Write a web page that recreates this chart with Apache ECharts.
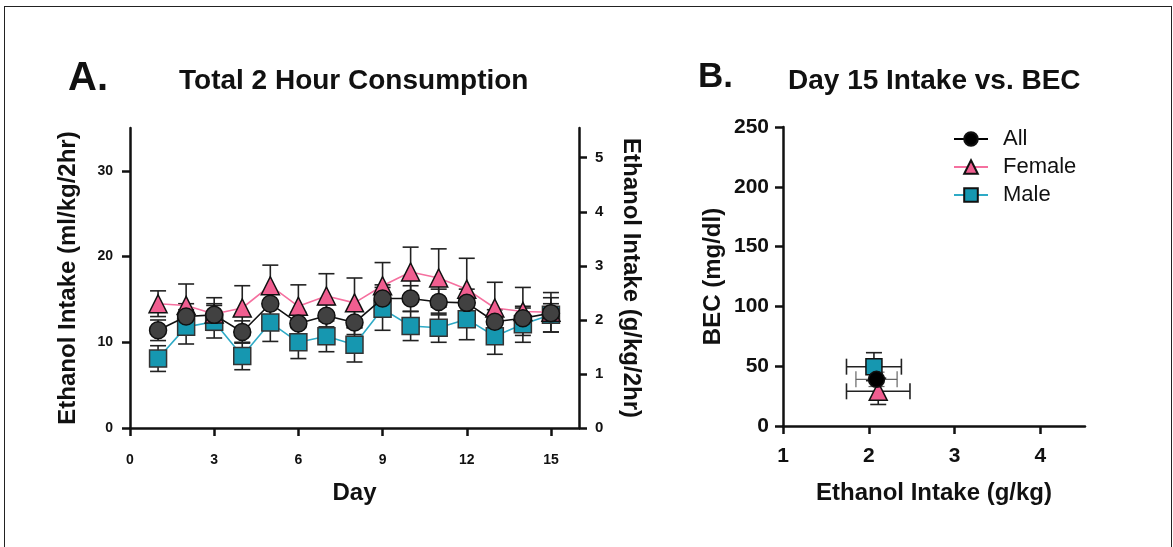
<!DOCTYPE html>
<html>
<head>
<meta charset="utf-8">
<title>Ethanol intake</title>
<script src="https://cdn.jsdelivr.net/npm/echarts@6/dist/echarts.min.js"></script>
<style>
  html, body { margin: 0; padding: 0; background: #fff; }
  #chart { width: 1173px; height: 547px; }
  #frame {
    position: absolute; left: 4px; top: 6px; width: 1166px; height: 560px;
    border: 1.5px solid #222; pointer-events: none;
  }
</style>
</head>
<body>
<div id="chart"></div>
<div id="frame"></div>
<script>
// Panel A: daily 2 hour intake (ml/kg/2hr), mean and SEM
const days = [1, 2, 3, 4, 5, 6, 7, 8, 9, 10, 11, 12, 13, 14, 15]
const allMean = [11.4, 13.0, 13.2, 11.2, 14.5, 12.2, 13.1, 12.3, 15.1, 15.1, 14.7, 14.6, 12.4, 12.8, 13.4]
const allErr = [1.2, 1.5, 1.3, 1.3, 1.4, 1.3, 1.3, 1.4, 1.6, 1.5, 1.5, 1.6, 1.4, 1.2, 1.1]
const femaleMean = [14.5, 14.3, 13.3, 14.0, 16.6, 14.2, 15.4, 14.6, 16.6, 18.2, 17.5, 16.2, 14.0, 13.6, 13.5]
const femaleErr = [1.5, 2.5, 1.9, 2.6, 2.4, 2.5, 2.6, 2.9, 2.7, 2.9, 3.4, 3.6, 3.0, 2.8, 2.3]
const maleMean = [8.1, 11.8, 12.4, 8.4, 12.3, 10.0, 10.7, 9.7, 13.9, 11.9, 11.7, 12.7, 10.7, 12.1, 13.2]
const maleErr = [1.5, 2.0, 1.9, 1.6, 2.2, 1.9, 1.8, 2.0, 2.5, 1.7, 1.7, 2.4, 2.1, 2.1, 2.0]
const dayTicks = [0, 3, 6, 9, 12, 15]
const mlTicks = [0, 10, 20, 30]
const gTicks = [0, 1, 2, 3, 4, 5]

// Panel B: day 15 intake vs BEC (order: All, Female, Male)
const groups = ['All', 'Female', 'Male']
const bIntake = [2.09, 2.11, 2.06]
const bIntakeErr = [0.24, 0.37, 0.32]
const bBec = [39, 29, 49.6]
const bBecErr = [6, 11, 11.7]
const intakeTicks = [1, 2, 3, 4]

const FONT = 'Liberation Sans, Arial, sans-serif'
const PINK = '#f05e90'
const PINK_LINE = '#f5709f'
const TEAL = '#1697b0'
const TEAL_LINE = '#2eaac6'
const GREY = '#414141'

const chart = echarts.init(document.getElementById('chart'))

function axisBase() {
  return {
    axisLine: { show: true, onZero: false, lineStyle: { color: '#111', width: 2.5 } },
    axisTick: { show: true, length: 8, lineStyle: { color: '#111', width: 2.5 } },
    splitLine: { show: false },
    nameTextStyle: { fontFamily: FONT, fontWeight: 'bold', fontSize: 24, color: '#111' }
  }
}

function labelStyle(size) {
  return { fontFamily: FONT, fontWeight: 'bold', fontSize: size, color: '#111' }
}

function errorBars(name, means, errs) {
  return {
    type: 'custom',
    name,
    xAxisIndex: 0,
    yAxisIndex: 0,
    z: 1,
    silent: true,
    data: days.map((d, i) => [d, means[i] - errs[i], means[i] + errs[i]]),
    encode: { x: 0, y: [1, 2] },
    renderItem(params, api) {
      const x = api.value(0)
      const lo = api.coord([x, api.value(1)])
      const hi = api.coord([x, api.value(2)])
      const hw = 8
      const style = { stroke: '#222', lineWidth: 1.6 }
      return {
        type: 'group',
        children: [
          { type: 'line', shape: { x1: lo[0], y1: lo[1], x2: hi[0], y2: hi[1] }, style },
          { type: 'line', shape: { x1: hi[0] - hw, y1: hi[1], x2: hi[0] + hw, y2: hi[1] }, style },
          { type: 'line', shape: { x1: lo[0] - hw, y1: lo[1], x2: lo[0] + hw, y2: lo[1] }, style }
        ]
      }
    }
  }
}

function dayLine(name, means, symbol, fill, border, lineColor, z) {
  return {
    type: 'line',
    name,
    xAxisIndex: 0,
    yAxisIndex: 0,
    z,
    data: days.map((d, i) => [d, means[i]]),
    symbol,
    symbolSize: symbol === 'triangle' ? 18 : 17,
    itemStyle: { color: fill, borderColor: border, borderWidth: 1.5 },
    lineStyle: { color: lineColor, width: 1.6 },
    emphasis: { disabled: true }
  }
}

const scatterSymbols = ['circle', 'triangle', 'rect']
const scatterFills = ['#000', PINK, TEAL]
const scatterLines = ['#000', PINK_LINE, TEAL_LINE]
const scatterZ = [5, 4, 3]

const bPoints = groups.map((g, i) => ({
  type: 'line',
  name: g,
  xAxisIndex: 1,
  yAxisIndex: 2,
  z: scatterZ[i],
  data: [[bIntake[i], bBec[i]]],
  symbol: scatterSymbols[i],
  symbolSize: i === 1 ? 18 : 16,
  itemStyle: { color: scatterFills[i], borderColor: '#111', borderWidth: 1.5 },
  lineStyle: { color: scatterLines[i], width: 1.2 },
  emphasis: { disabled: true }
}))

const bErrors = {
  type: 'custom',
  name: 'B errors',
  xAxisIndex: 1,
  yAxisIndex: 2,
  z: 1,
  silent: true,
  data: groups.map((g, i) => [bIntake[i], bBec[i], bIntakeErr[i], bBecErr[i], i]),
  encode: { x: 0, y: 1 },
  renderItem(params, api) {
    const x = api.value(0)
    const y = api.value(1)
    const ex = api.value(2)
    const ey = api.value(3)
    const idx = api.value(4)
    const left = api.coord([x - ex, y])
    const right = api.coord([x + ex, y])
    const top = api.coord([x, y + ey])
    const bottom = api.coord([x, y - ey])
    const hw = 8
    const style = { stroke: idx === 0 ? '#666' : '#222', lineWidth: idx === 0 ? 1.2 : 1.6 }
    return {
      type: 'group',
      children: [
        { type: 'line', shape: { x1: left[0], y1: left[1], x2: right[0], y2: right[1] }, style },
        { type: 'line', shape: { x1: left[0], y1: left[1] - hw, x2: left[0], y2: left[1] + hw }, style },
        { type: 'line', shape: { x1: right[0], y1: right[1] - hw, x2: right[0], y2: right[1] + hw }, style },
        { type: 'line', shape: { x1: top[0], y1: top[1], x2: bottom[0], y2: bottom[1] }, style },
        { type: 'line', shape: { x1: top[0] - hw, y1: top[1], x2: top[0] + hw, y2: top[1] }, style },
        { type: 'line', shape: { x1: bottom[0] - hw, y1: bottom[1], x2: bottom[0] + hw, y2: bottom[1] }, style }
      ]
    }
  }
}

chart.setOption({
  animation: false,
  textStyle: { fontFamily: FONT },
  title: [
    { text: 'A.', left: 63, top: 54, textStyle: { fontFamily: FONT, fontWeight: 'bold', fontSize: 40, color: '#111' } },
    { text: 'Total 2 Hour Consumption', left: 174, top: 62, textStyle: { fontFamily: FONT, fontWeight: 'bold', fontSize: 28, color: '#111' } },
    { text: 'B.', left: 693, top: 55, textStyle: { fontFamily: FONT, fontWeight: 'bold', fontSize: 35, color: '#111' } },
    { text: 'Day 15 Intake vs. BEC', left: 783, top: 62, textStyle: { fontFamily: FONT, fontWeight: 'bold', fontSize: 28, color: '#111' } }
  ],
  legend: {
    data: groups,
    orient: 'vertical',
    left: 948,
    top: 123,
    itemWidth: 34,
    itemHeight: 17,
    itemGap: 6,
    selectedMode: false,
    textStyle: { fontFamily: FONT, fontSize: 22, color: '#111', padding: [0, 0, 0, 10] }
  },
  grid: [
    { left: 130, right: 594, top: 128, bottom: 119 },
    { left: 783, right: 88, top: 127, bottom: 121 }
  ],
  xAxis: [
    {
      ...axisBase(),
      gridIndex: 0,
      type: 'value',
      min: 0,
      max: 16,
      name: 'Day',
      nameLocation: 'middle',
      nameGap: 53,
      axisTick: { show: true, length: 8, customValues: dayTicks, lineStyle: { color: '#111', width: 2.5 } },
      axisLabel: { ...labelStyle(14), margin: 25, customValues: dayTicks }
    },
    {
      ...axisBase(),
      gridIndex: 1,
      type: 'value',
      min: 1,
      max: 4.52,
      name: 'Ethanol Intake (g/kg)',
      nameLocation: 'middle',
      nameGap: 55,
      axisTick: { show: true, length: 8, customValues: intakeTicks, lineStyle: { color: '#111', width: 2.5 } },
      axisLabel: { ...labelStyle(21), margin: 20, customValues: intakeTicks }
    }
  ],
  yAxis: [
    {
      ...axisBase(),
      gridIndex: 0,
      type: 'value',
      min: 0,
      max: 35,
      name: 'Ethanol Intake (ml/kg/2hr)',
      nameLocation: 'middle',
      nameGap: 50,
      axisTick: { show: true, length: 8, customValues: mlTicks, lineStyle: { color: '#111', width: 2.5 } },
      axisLabel: { ...labelStyle(14), margin: 17, customValues: mlTicks }
    },
    {
      ...axisBase(),
      gridIndex: 0,
      type: 'value',
      position: 'right',
      min: 0,
      max: 5.55,
      name: 'Ethanol Intake (g/kg/2hr)',
      nameLocation: 'middle',
      nameRotate: -90,
      nameGap: 40,
      axisTick: { show: true, length: 8, customValues: gTicks, lineStyle: { color: '#111', width: 2.5 } },
      axisLabel: { ...labelStyle(15), margin: 16, customValues: gTicks }
    },
    {
      ...axisBase(),
      gridIndex: 1,
      type: 'value',
      min: 0,
      max: 250,
      interval: 50,
      name: 'BEC (mg/dl)',
      nameLocation: 'middle',
      nameGap: 58,
      axisLabel: { ...labelStyle(21), margin: 14 }
    }
  ],
  series: [
    errorBars('A-Male err', maleMean, maleErr),
    errorBars('A-Female err', femaleMean, femaleErr),
    errorBars('A-All err', allMean, allErr),
    dayLine('A-Male', maleMean, 'rect', TEAL, '#333', TEAL_LINE, 2),
    dayLine('A-Female', femaleMean, 'triangle', PINK, '#111', PINK_LINE, 3),
    dayLine('A-All', allMean, 'circle', GREY, '#111', '#111', 4),
    bErrors,
    ...bPoints
  ]
})
</script>
</body>
</html>
